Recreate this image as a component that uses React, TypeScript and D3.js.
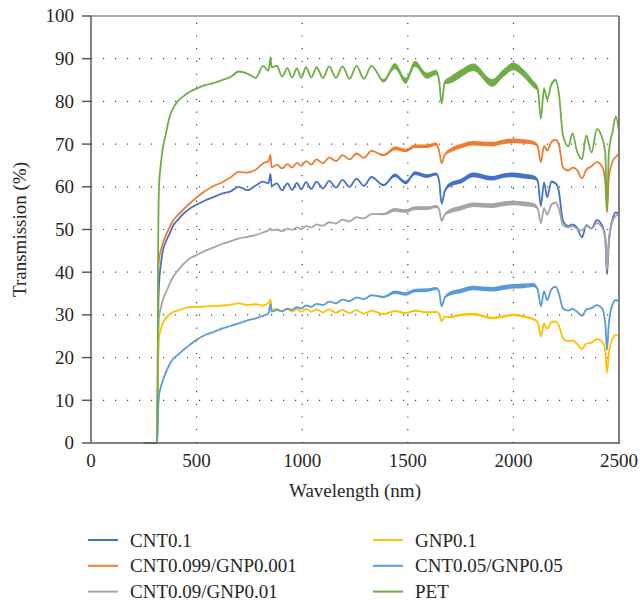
import React from 'react'
import * as d3 from 'd3'

// wavelength grid (nm) shared by every series
const wavelength = [
  250, 312, 316, 318, 322, 330, 340, 355, 370, 390,
  410, 440, 470, 500, 540, 580, 620, 660, 700, 740,
  780, 815, 840, 850, 855, 880, 905, 930, 952, 975,
  996, 1018, 1043, 1068, 1098, 1128, 1160, 1191, 1224, 1257,
  1292, 1328, 1385, 1439, 1490, 1534, 1590, 1635, 1648, 1660,
  1675, 1700, 1750, 1810, 1900, 1950, 2000, 2050, 2095, 2115,
  2130, 2145, 2160, 2180, 2200, 2215, 2235, 2260, 2280, 2300,
  2325, 2345, 2370, 2395, 2420, 2435, 2443, 2452, 2470, 2485, 2500
]

const cnt01 = [
  0, 0, 10, 30, 37, 41.5, 45, 47.2, 48.8, 51,
  52.2, 53.8, 55, 55.8, 56.8, 57.6, 58.4, 58.9, 60, 59.2,
  60.3, 61.2, 60.8, 63, 60.2, 60.8, 59.2, 60.8, 59.3, 60.9,
  59.4, 61.1, 59.5, 61.2, 59.6, 61.4, 59.8, 61.6, 60, 61.9,
  60.2, 62.3, 60.4, 62.7, 61, 63.2, 62.5, 63, 61.5, 56,
  59, 60.5, 61.3, 62.8, 62, 62.6, 62.8, 62.5, 62.2, 61.5,
  55.5, 61, 57.6, 61.2, 60.8, 59, 52, 50.8, 51.2, 50.5,
  48.2, 51, 50.2, 52.2, 51, 48, 39.5, 47, 52.5, 54, 53.5
]

const cnt099gnp001 = [
  0, 0, 15, 40, 43, 45, 46.8, 48.7, 50.3, 52.2,
  53.3, 54.8, 56.2, 57.5, 59, 60.2, 61, 62.2, 63.5, 63.3,
  64, 65.5, 66, 67.5, 64.5, 65.2, 64.3, 65.3, 64.5, 65.6,
  64.9, 66, 65.2, 66.4, 65.5, 66.9, 66, 67.4, 66.4, 67.8,
  66.8, 68.4, 67.4, 69, 68.5, 69.5, 69.5, 70, 68.5, 65.5,
  67.5, 68.5, 69.5, 70.2, 70, 70.5, 70.8, 70.6, 70.3, 69.5,
  65.8, 69.5, 68.5, 70.5, 71, 70, 64.5, 63.8, 64.5, 64,
  62, 64, 64.8, 65.8, 64.8, 61, 54, 62, 66, 67, 67.8
]

const cnt009gnp001 = [
  0, 0, 8, 22, 29.5, 31.5, 33.5, 35.3, 37, 39,
  40.3, 42, 43.3, 44, 45, 45.8, 46.6, 47.2, 47.9, 48.3,
  48.7, 49.3, 49.8, 50.2, 49.8, 50, 49.6, 50.2, 49.9, 50.5,
  50.1, 50.8, 50.5, 51.2, 50.9, 51.7, 51.4, 52.3, 51.9, 52.9,
  52.6, 53.6, 53.6, 54.6, 54.3, 55, 55, 55.4, 54.8, 52,
  53.5, 54.3, 55, 55.8, 55.6, 56, 56.2, 56, 55.7, 55,
  51.5, 55, 53.5, 55.8, 56.3, 55, 51, 50.5, 50.8, 50.2,
  49.8, 50.8, 50.2, 51.5, 50.5, 48, 40.5, 47.5, 52, 53.2, 53.5
]

const gnp01 = [
  0, 0, 8, 18, 24.5, 26.5, 28, 29.3, 30, 30.7,
  31, 31.5, 31.8, 31.8, 32, 32.1, 32.2, 32.4, 32.7, 32.3,
  32.5, 32.2, 32.8, 33.6, 31.2, 31.4, 30.8, 31.5, 30.8, 31.4,
  30.7, 31.4, 30.7, 31.3, 30.6, 31.3, 30.5, 31.2, 30.4, 31.1,
  30.3, 31, 30.2, 30.9, 30.4, 31, 30.6, 30.7, 30.3, 28.5,
  29.6, 29.5, 30, 30.2, 29.3, 29.6, 30, 29.6, 29, 28.3,
  25, 28, 26.8, 28.3, 28.5, 27.5, 24.5, 23.8, 24, 23.3,
  22, 23.3, 23.5, 24.3, 23.8, 21.5, 16.5, 21, 24.5, 25.3, 25
]

const cnt005gnp005 = [
  0, 0, 3, 8, 11, 13, 14.6, 16.6, 18.2, 19.8,
  20.6, 21.9, 23.1, 24.2, 25.3, 26, 26.8, 27.4, 28, 28.7,
  29.2, 29.8, 30.3, 32.6, 30.8, 31.1, 30.9, 31.4, 31.2, 31.8,
  31.5, 32.2, 31.9, 32.6, 32.3, 33.1, 32.7, 33.6, 33.2, 34.1,
  33.7, 34.6, 34.2, 35.3, 34.9, 35.7, 35.8, 36.2, 35.5, 32,
  34, 35, 35.6, 36.3, 36, 36.4, 36.7, 36.8, 37, 36,
  32, 35.5, 33.5, 36, 36.6, 35, 31.5, 31, 31.4, 30.8,
  29.8, 31.3, 31.6, 32.3, 31.5, 28, 21.8, 28, 32.5, 33.5, 33
]

const pet = [
  0, 0, 20, 45, 60, 65, 69, 72.5, 76, 78.5,
  80, 81.3, 82.3, 83, 83.8, 84.3, 85, 85.7, 87, 86.5,
  85.5, 88.3, 87.2, 90.3, 88, 88.3, 85.8, 87.8, 85.6, 87.7,
  85.5, 88, 85.6, 88, 85.5, 88.2, 85.5, 88.2, 85.3, 88.3,
  85.3, 88.3, 84.8, 88.3, 84.8, 88.8, 86, 86.8, 85, 79.5,
  84.5, 85, 86.5, 88, 84.3, 86.5, 88.2, 86.5, 84, 83,
  76, 83, 80.5, 84, 85, 82, 72, 69.5, 72.5, 68.5,
  66.5, 72, 68, 73.5, 71.5, 68, 54.5, 68, 73, 76.5, 73
]

// half-width of the fast fringe band (%), as seen on the PET trace
const fringe = [
  0, 0, 0, 0, 0, 0, 0, 0, 0, 0,
  0, 0, 0, 0, 0, 0, 0, 0, 0, 0,
  0, 0, 0, 0, 0, 0, 0, 0, 0, 0,
  0, 0, 0, 0, 0, 0, 0, 0, 0, 0,
  0, 0, 0.4, 0.7, 0.7, 0.7, 0.7, 0.6, 0.4, 0.1,
  0.4, 0.8, 0.9, 0.9, 0.9, 0.9, 0.9, 0.9, 0.8, 0.6,
  0.2, 0.4, 0.4, 0.4, 0.3, 0.2, 0.1, 0.1, 0.1, 0.1,
  0.1, 0.1, 0.1, 0.1, 0.1, 0.1, 0, 0.1, 0.1, 0.1, 0.1
]

const yTicks = [0, 10, 20, 30, 40, 50, 60, 70, 80, 90, 100]
const xTicks = [0, 500, 1000, 1500, 2000, 2500]

const series = [
  {name: 'CNT0.1', values: cnt01, color: '#4472C4', band: 0.6},
  {name: 'CNT0.099/GNP0.001', values: cnt099gnp001, color: '#ED7D31', band: 0.6},
  {name: 'CNT0.09/GNP0.01', values: cnt009gnp001, color: '#A5A5A5', band: 0.6},
  {name: 'GNP0.1', values: gnp01, color: '#FFC000', band: 0.3},
  {name: 'CNT0.05/GNP0.05', values: cnt005gnp005, color: '#5B9BD5', band: 0.6},
  {name: 'PET', values: pet, color: '#70AD47', band: 1}
]

const font = '"Liberation Serif", "DejaVu Serif", serif'
const textColor = '#262626'

export default function App () {
  const left = 91, right = 619, top = 16, bottom = 443
  const x = d3.scaleLinear().domain([0, 2500]).range([left, right])
  const y = d3.scaleLinear().domain([0, 100]).range([bottom, top])

  const line = d3.line<number>()
    .x((d, i) => x(wavelength[i]))
    .y(d => y(d))
    .curve(d3.curveMonotoneX)

  return (
    <div style={{position: 'absolute', left: 0, top: 0}}>
      <svg width={640} height={603} style={{display: 'block', fontFamily: font}}>
        <rect width={640} height={603} fill='#fff' />
        {/* dotted grid */}
        {yTicks.slice(1, -1).map(t => (
          <line key={'gy' + t} x1={left} x2={right} y1={y(t)} y2={y(t)}
            stroke='#444' strokeWidth={1.2} strokeDasharray='1.2 10.8' />
        ))}
        {xTicks.slice(1, -1).map(t => (
          <line key={'gx' + t} x1={x(t)} x2={x(t)} y1={bottom} y2={top}
            stroke='#444' strokeWidth={1.2} strokeDasharray='1.2 11.5' />
        ))}

        {/* series */}
        {series.map(s => {
          const area = d3.area<number>()
            .x((d, i) => x(wavelength[i]))
            .y0((d, i) => y(d - fringe[i] * s.band))
            .y1((d, i) => y(d + fringe[i] * s.band))
            .curve(d3.curveMonotoneX)
          return (
            <g key={s.name}>
              <path d={area(s.values) || ''} fill={s.color} />
              <path d={line(s.values) || ''} fill='none' stroke={s.color} strokeWidth={1.8} strokeLinejoin='round' />
            </g>
          )
        })}

        {/* frame */}
        <line x1={left} x2={right} y1={top} y2={top} stroke='#595959' strokeWidth={1.2} />
        <line x1={right} x2={right} y1={top} y2={bottom} stroke='#7f7f7f' strokeWidth={2} />
        <line x1={left} x2={left} y1={top} y2={bottom} stroke='#595959' strokeWidth={1.5} />
        <line x1={left} x2={right + 1} y1={bottom} y2={bottom} stroke='#595959' strokeWidth={1.5} />

        {yTicks.map(t => (
          <g key={'ty' + t}>
            <line x1={left - 9} x2={left} y1={y(t)} y2={y(t)} stroke='#595959' strokeWidth={1.5} />
            <text x={74} y={y(t)} dy='0.34em' textAnchor='end' fontSize={19} fill={textColor}>{t}</text>
          </g>
        ))}
        {xTicks.map(t => (
          <text key={'tx' + t} x={x(t)} y={467} textAnchor='middle' fontSize={19} fill={textColor}>{t}</text>
        ))}

        <text x={(left + right) / 2} y={497} textAnchor='middle' fontSize={19} fill={textColor}>Wavelength (nm)</text>
        <text transform={`translate(26,${(top + bottom) / 2}) rotate(-90)`} textAnchor='middle' fontSize={19} fill={textColor}>Transmission (%)</text>

        {/* legend, column-major */}
        {series.map((s, i) => {
          const col = Math.floor(i / 3)
          const row = i % 3
          const lx = col === 0 ? 88 : 373
          const ly = 540 + row * 25.8
          return (
            <g key={'lg' + s.name}>
              <line x1={lx} x2={lx + 30} y1={ly} y2={ly} stroke={s.color} strokeWidth={2} />
              <text x={lx + 42} y={ly + 6.5} fontSize={19} fill={textColor}>{s.name}</text>
            </g>
          )
        })}
      </svg>
    </div>
  )
}
